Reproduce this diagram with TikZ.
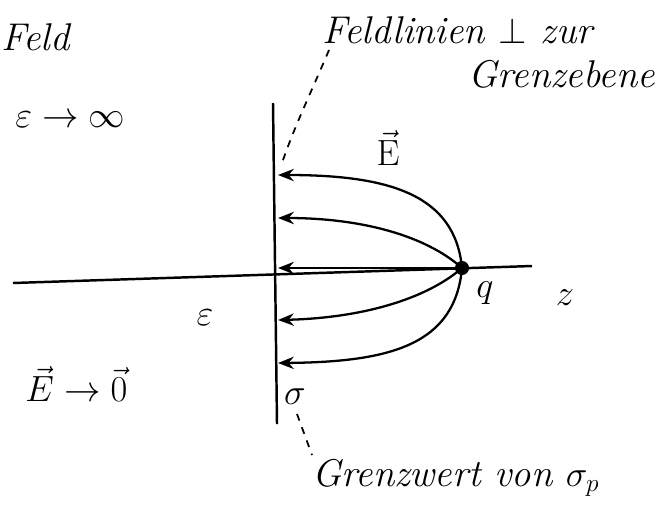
\documentclass[tikz,border=0pt]{standalone}
\usetikzlibrary{arrows.meta}
\begin{document}
\begin{tikzpicture}[x=0.02cm,y=-0.02cm,
  ln/.style={line width=1.4pt},
  fl/.style={line width=1.3pt,-{Stealth[length=9pt,width=7pt]}},
  hw/.style={font=\fontsize{22}{26}\selectfont\itshape,inner sep=0pt},
  mt/.style={font=\fontsize{22}{26}\selectfont,inner sep=0pt},
  lead/.style={line width=1pt,dash pattern=on 4pt off 4pt}]
\useasboundingbox (0,0) rectangle (668,508);
% plane and axis
\coordinate (pt) at (273,103);
\coordinate (pb) at (277,424);
\draw[ln] (pt) -- (pb);
\coordinate (al) at (13,283);
\coordinate (ar) at (532,266);
\draw[ln] (al) -- (ar);
% charge
\node[circle,fill,inner sep=0pt,minimum size=8pt] (q) at (462,268) {};
\coordinate (h1) at (278,175);
\coordinate (h2) at (278,218);
\coordinate (h3) at (278,268);
\coordinate (h4) at (278,320);
\coordinate (h5) at (278,363);
\draw[fl] (q.center) .. controls (455,195) and (390,175) .. (h1);
\draw[fl] (q.center) .. controls (425,235) and (360,218) .. (h2);
\draw[fl] (q.center) -- (h3);
\draw[fl] (q.center) .. controls (425,300) and (360,318) .. (h4);
\draw[fl] (q.center) .. controls (455,345) and (390,362) .. (h5);
% labels
\node[hw,anchor=west] (feld) at (1,37) {Feld};
\node[hw,anchor=west] (fl1) at (322,30) {Feldlinien $\perp$ zur};
\node[hw,anchor=west] (fl2) at (468,74) {Grenzebene};
\node[mt,anchor=west] (einf) at (15,120) {$\varepsilon\to\infty$};
\node[mt] (Evec) at (388,148) {$\vec{\mathrm{E}}$};
\node[mt] (eps) at (205,318) {$\varepsilon$};
\node[mt] (ql) at (485,293) {$q$};
\node[mt] (zl) at (565,298) {$z$};
\node[mt,anchor=west] (E0) at (25,384) {$\vec E\to\vec 0$};
\node[mt] (sig) at (295,397) {$\sigma$};
\node[hw,anchor=west] (gw) at (312,478) {Grenzwert von $\sigma_p$};
% leaders
\coordinate (d1) at (329,50);
\coordinate (d2) at (282,163);
\draw[lead] (d1) .. controls (310,95) and (295,125) .. (d2);
\coordinate (d3) at (297,414);
\coordinate (d4) at (312,455);
\draw[lead] (d3) -- (d4);
\end{tikzpicture}
\end{document}
